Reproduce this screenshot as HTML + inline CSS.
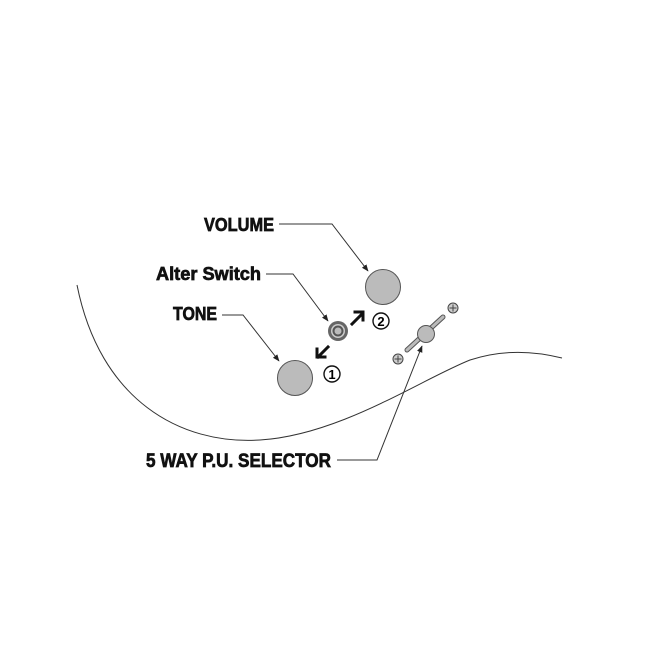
<!DOCTYPE html>
<html><head><style>html,body{margin:0;padding:0;background:#fff;}svg{display:block}</style></head>
<body>
<svg width="650" height="650" viewBox="0 0 650 650" xmlns="http://www.w3.org/2000/svg">
<defs>
<marker id="ah" viewBox="0 0 10 10" refX="9" refY="5" markerWidth="7" markerHeight="7" orient="auto" markerUnits="userSpaceOnUse">
<path d="M0,1 L10,5 L0,9 z" fill="#222"/>
</marker>
</defs>
<path d="M77,285 C100,400 180,445 260,440 C340,435 420,380 470,360 C500,350 530,350 562,358" fill="none" stroke="#333" stroke-width="1"/>
<g font-family="Liberation Sans, sans-serif" font-weight="bold" fill="#111" stroke="#111" stroke-width="0.7">
<text x="204" y="231" font-size="18" textLength="70" lengthAdjust="spacingAndGlyphs">VOLUME</text>
<text x="156" y="280" font-size="18" textLength="105" lengthAdjust="spacingAndGlyphs">Alter Switch</text>
<text x="173" y="320" font-size="18" textLength="44" lengthAdjust="spacingAndGlyphs">TONE</text>
<text x="146" y="467" font-size="19" textLength="185" lengthAdjust="spacingAndGlyphs">5 WAY P.U. SELECTOR</text>
</g>
<g fill="none" stroke="#333" stroke-width="1">
<polyline points="279,224 332,224 368,271" marker-end="url(#ah)"/>
<polyline points="266,274 293,274 328,321" marker-end="url(#ah)"/>
<polyline points="222,315 243,315 279,361" marker-end="url(#ah)"/>
<polyline points="337,460 377,460 422,346" marker-end="url(#ah)"/>
</g>
<circle cx="383" cy="287" r="17.5" fill="#bbb" stroke="#555" stroke-width="1"/>
<circle cx="295" cy="378" r="17.5" fill="#bbb" stroke="#555" stroke-width="1"/>
<circle cx="338" cy="331" r="10" fill="#666"/>
<circle cx="338" cy="331" r="7" fill="#ccc"/>
<circle cx="338" cy="331" r="5.5" fill="#555"/>
<circle cx="338" cy="331" r="3.5" fill="#bbb"/>
<g stroke="#111" stroke-width="3" fill="none" stroke-linecap="square">
<line x1="352" y1="324" x2="362" y2="314"/>
<polyline points="355,312 363,312 363,320"/>
<line x1="328" y1="347" x2="318" y2="357"/>
<polyline points="317,349 317,357 325,357"/>
</g>
<circle cx="381" cy="321" r="8" fill="#fff" stroke="#111" stroke-width="1.4"/>
<text x="381" y="326" font-family="Liberation Sans, sans-serif" font-weight="bold" font-size="13" text-anchor="middle">2</text>
<circle cx="332" cy="374" r="8" fill="#fff" stroke="#111" stroke-width="1.4"/>
<text x="332" y="379" font-family="Liberation Sans, sans-serif" font-weight="bold" font-size="13" text-anchor="middle">1</text>
<line x1="407" y1="350" x2="443" y2="317" stroke="#555" stroke-width="5" stroke-linecap="round"/>
<line x1="407" y1="350" x2="443" y2="317" stroke="#bbb" stroke-width="3" stroke-linecap="round"/>
<circle cx="426" cy="334" r="8.5" fill="#bbb" stroke="#555" stroke-width="1"/>
<g stroke="#444" stroke-width="1">
<circle cx="453" cy="308" r="5" fill="#ccc"/>
<line x1="449.5" y1="308" x2="456.5" y2="308"/><line x1="453" y1="304.5" x2="453" y2="311.5"/>
<circle cx="398" cy="359" r="5" fill="#ccc"/>
<line x1="394.5" y1="359" x2="401.5" y2="359"/><line x1="398" y1="355.5" x2="398" y2="362.5"/>
</g>
</svg>
</body></html>
